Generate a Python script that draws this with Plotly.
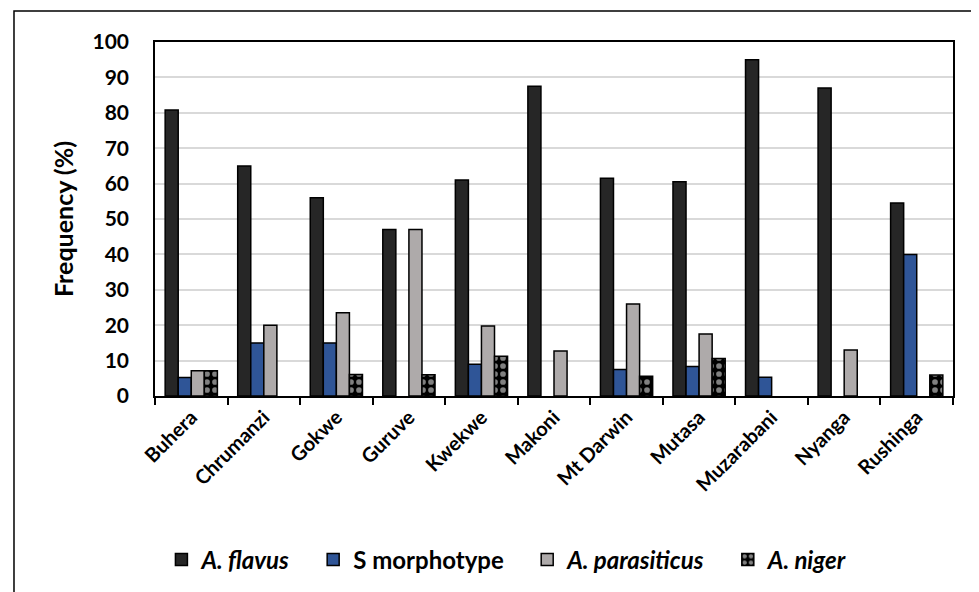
import plotly.graph_objects as go

categories = ["Buhera", "Chrumanzi", "Gokwe", "Guruve", "Kwekwe", "Makoni",
              "Mt Darwin", "Mutasa", "Muzarabani", "Nyanga", "Rushinga"]
a_flavus = [80.8, 65.0, 56.0, 47.0, 61.0, 87.5, 61.5, 60.5, 95.0, 87.0, 54.5]
s_morphotype = [5.2, 15.0, 15.0, 0, 9.0, 0, 7.5, 8.3, 5.3, 0, 40.0]
a_parasiticus = [7.1, 20.0, 23.5, 47.0, 19.8, 12.7, 26.0, 17.5, 0, 13.0, 0]
a_niger = [7.1, 0, 6.1, 6.0, 11.2, 0, 5.6, 10.6, 0, 0, 5.9]

y_ticks = [0, 10, 20, 30, 40, 50, 60, 70, 80, 90, 100]

FONT = "Lato"
PAD = "&nbsp;&nbsp;&nbsp;"


def outline(values):
    return dict(color="black", width=[1.5 if v > 0 else 0 for v in values])


fig = go.Figure()
fig.add_trace(go.Bar(x=categories, y=a_flavus, name="<b><i>A. flavus</i></b>" + PAD,
                     marker=dict(color="#262626", line=outline(a_flavus))))
fig.add_trace(go.Bar(x=categories, y=s_morphotype, name="<b>S morphotype</b>" + PAD,
                     marker=dict(color="#2F5597", line=outline(s_morphotype))))
fig.add_trace(go.Bar(x=categories, y=a_parasiticus, name="<b><i>A. parasiticus</i></b>" + PAD,
                     marker=dict(color="#AEAAAA", line=outline(a_parasiticus))))
fig.add_trace(go.Bar(x=categories, y=a_niger, name="<b><i>A. niger</i></b>",
                     marker=dict(color="black", line=outline(a_niger),
                                 pattern=dict(shape=".", fgcolor="white", bgcolor="black",
                                              size=8, solidity=0.4))))

fig.update_layout(
    width=979, height=592,
    margin=dict(l=147, r=34, t=34, b=204, autoexpand=False),
    paper_bgcolor="white", plot_bgcolor="white",
    barmode="group", bargap=0.28, bargroupgap=0,
    font=dict(family=FONT, color="black"),
    showlegend=True,
    legend=dict(orientation="h", x=0.441, xanchor="center", y=-0.463, yanchor="middle",
                font=dict(size=24, family=FONT, color="black"),
                tracegroupgap=0),
    xaxis=dict(showline=True, linecolor="black", linewidth=1.5, mirror=True,
               ticks="outside", tickson="boundaries", ticklen=7, tickwidth=1.5,
               tickcolor="black", tickangle=-45, automargin=False,
               tickfont=dict(size=20, family=FONT, color="black"),
               tickvals=categories,
               ticktext=["<b>%s</b>" % c for c in categories]),
    yaxis=dict(range=[0, 100], tickvals=y_ticks, automargin=False,
               ticktext=["<b>%d</b>" % v for v in y_ticks],
               tickfont=dict(size=21, family=FONT, color="black"),
               ticklabelstandoff=20,
               showline=True, linecolor="black", linewidth=1.5, mirror=True,
               showgrid=True, gridcolor="#D9D9D9", gridwidth=1.5,
               ticks="", zeroline=False,
               title=dict(text="<b>Frequency (%)</b>", font=dict(size=25, family=FONT, color="black"),
                          standoff=12)),
)

fig.add_shape(type="rect", xref="paper", yref="paper",
              x0=-0.1767, x1=1.031, y0=-0.56, y1=1.0876,
              line=dict(color="black", width=1.5), fillcolor="rgba(0,0,0,0)", layer="below")

fig.write_html("out.html")
